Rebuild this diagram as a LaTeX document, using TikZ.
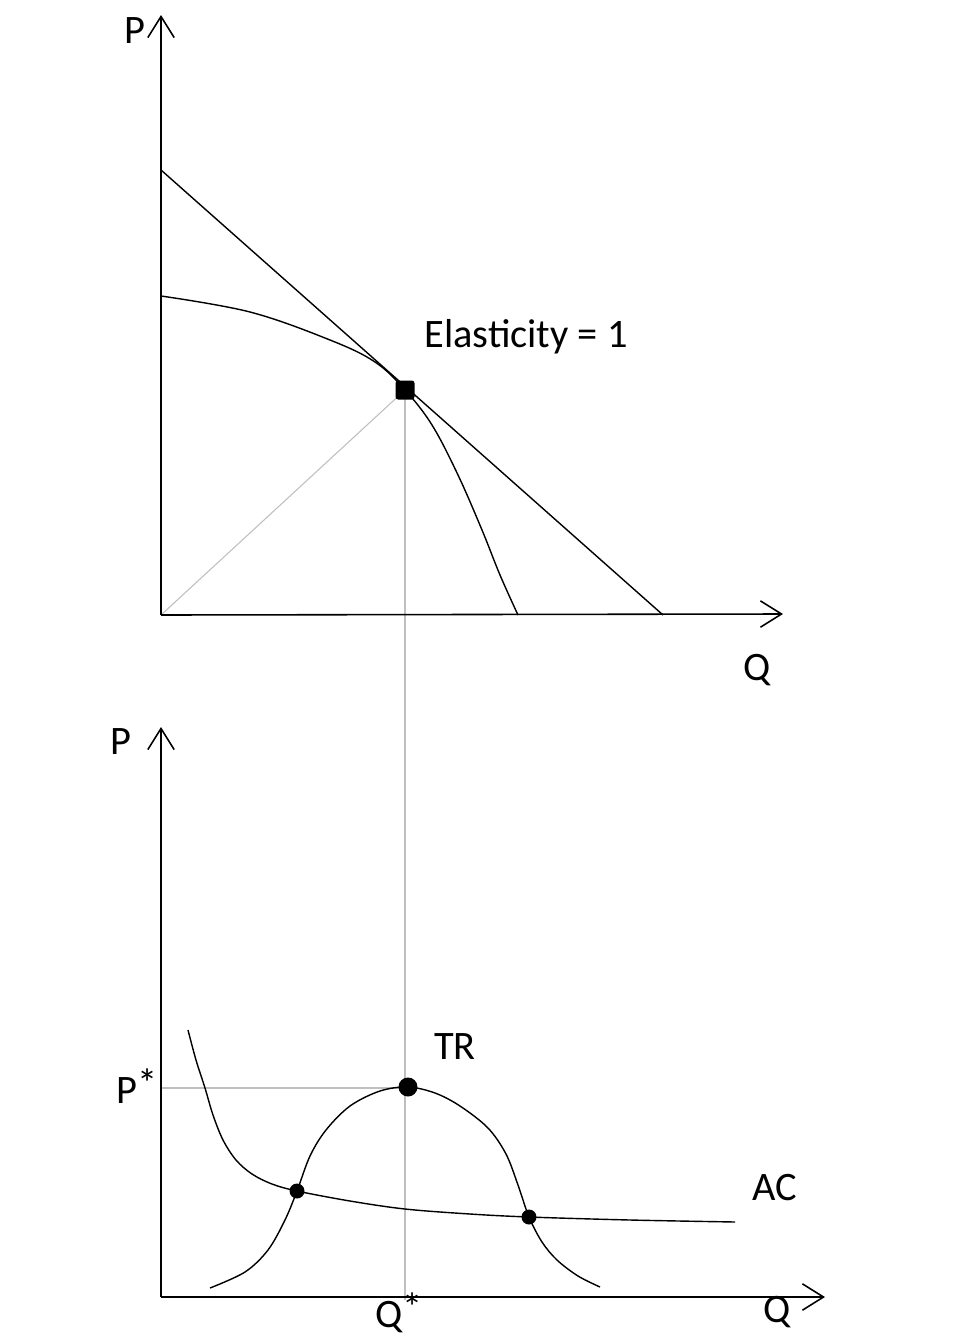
\documentclass[tikz,border=0pt]{standalone}
\usepackage{fontspec}
\setmainfont{Carlito}
\usetikzlibrary{arrows.meta}

\newcommand{\hstar}{\raisebox{0.3ex}{*}}

\begin{document}
\begin{tikzpicture}[
x=0.02cm, y=-0.02cm,
every node/.style={font=\fontsize{23}{27}\selectfont},
axis/.style={-{Straight Barb[length=12pt,width=15pt]}, line width=0.9pt},
curve/.style={line width=0.8pt},
guide/.style={black!25, line width=0.6pt},
dot/.style={circle, fill=black, inner sep=0pt, minimum size=0.3cm},
bigdot/.style={circle, fill=black, inner sep=0pt, minimum size=0.38cm},
sqdot/.style={rectangle, rounded corners=1.5pt, fill=black, inner sep=0pt, minimum size=0.38cm},
txt/.style={inner sep=0pt}
]
\fill[white] (0,0) rectangle (973,1339);
\useasboundingbox (0,0) rectangle (973,1339);

% Top diagram
\coordinate (o1) at (161,615);
\coordinate (p1) at (161,15);
\coordinate (q1) at (783,614);
\node[txt] (plab1) at (135,31) {P};
\node[txt] (qlab1) at (757,670) {Q};

\draw[guide] (o1) -- (405,390);
\draw[guide] (405,390) -- (405,1300);
\draw[axis] (o1) -- (p1);
\draw[axis] (o1) -- (q1);

\coordinate (d1) at (161,170);
\coordinate (d2) at (663,615);
\draw[curve] (d1) -- (d2);
\draw[curve] plot[smooth, tension=0.6] coordinates {(161,296) (250,312) (330,340) (375,362) (405,390) (432,425) (458,475) (482,530) (500,575) (518,615)};

\node[sqdot] (unit) at (405,390) {};
\node[txt] (elast) at (526,337) {Elasticity = 1};

% Bottom diagram
\coordinate (o2) at (161,1297);
\coordinate (p2) at (161,727);
\coordinate (q2) at (825,1297);
\node[txt] (plab2) at (121,742) {P};
\node[txt] (qlab2) at (777,1312) {Q};

\draw[guide] (o2 |- 0,1088) -- (408,1088);
\draw[axis] (o2) -- (p2);
\draw[axis] (o2) -- (q2);

% TR
\draw[curve] plot[smooth, tension=0.55] coordinates {(210,1288) (245,1272) (268,1250) (285,1220) (297,1191) (310,1156) (326,1130) (350,1106) (380,1091) (408,1087) (435,1093) (460,1106) (488,1128) (506,1154) (518,1185) (529,1217) (542,1242) (557,1260) (578,1276) (600,1287)};
% AC
\draw[curve] plot[smooth, tension=0.55] coordinates {(188,1030) (196,1060) (205,1088) (213,1115) (223,1140) (236,1160) (252,1174) (272,1184) (297,1191) (350,1201) (405,1209) (470,1214) (529,1217) (630,1220) (735,1222)};

\node[dot] (cross1) at (297,1191) {};
\node[bigdot] (peak) at (408,1087) {};
\node[dot] (cross2) at (529,1217) {};

\node[txt] (trlab) at (455,1047) {TR};
\node[txt] (aclab) at (775,1188) {AC};
\node[txt] (pstar) at (137,1086) {P\hstar};
\node[txt] (qstar) at (399,1313) {Q\hstar};

\end{tikzpicture}
\end{document}
